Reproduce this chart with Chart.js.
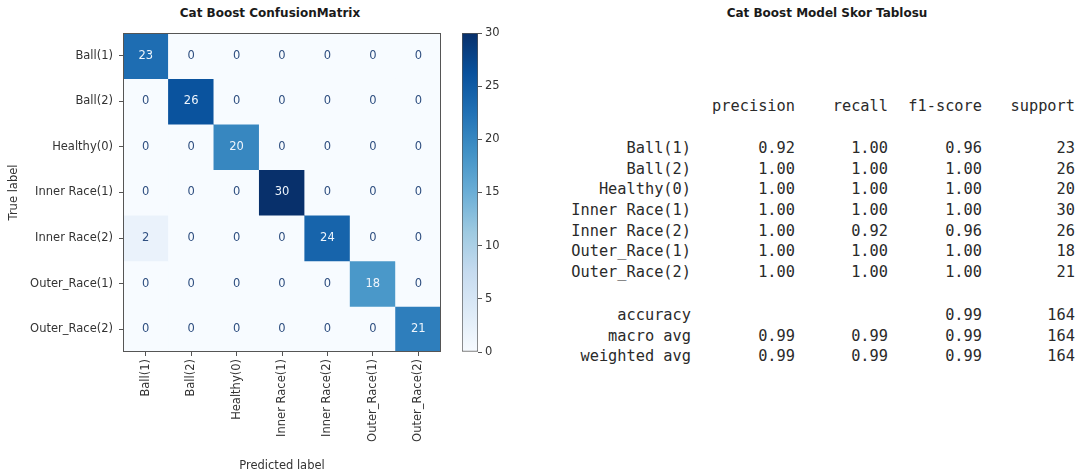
<!DOCTYPE html>
<html>
<head>
<meta charset="utf-8">
<script src="https://cdn.jsdelivr.net/npm/chart.js@4.4.1/dist/chart.umd.min.js"></script>
<style>
  html, body { margin: 0; padding: 0; background: #fff; width: 1087px; height: 474px; overflow: hidden; }
  canvas { position: absolute; top: 0; }
  #cm { left: 0; }
  #cb { left: 440px; }
  .title { position: absolute; top: 13px; transform: translate(-50%, -50%); white-space: nowrap;
           font: bold 12px 'DejaVu Sans', sans-serif; color: #1a1a1a; }
  .t { position: absolute; white-space: pre; font-family: 'DejaVu Sans Mono', monospace; font-size: 15.3px;
       line-height: 1; color: #2a2a2a; transform: translate(-100%, -50%); }
</style>
</head>
<body>
<div class="title" style="left:270px">Cat Boost ConfusionMatrix</div>
<div class="title" style="left:827px">Cat Boost Model Skor Tablosu</div>
<canvas id="cm" width="460" height="474"></canvas>
<canvas id="cb" width="80" height="474"></canvas>
<div id="report"></div>
<script>
// Class names (rows = true label, columns = predicted label)
const trueLabels = ['Ball(1)', 'Ball(2)', 'Healthy(0)', 'Inner Race(1)', 'Inner Race(2)', 'Outer_Race(1)', 'Outer_Race(2)'];
const predLabels = ['Ball(1)', 'Ball(2)', 'Healthy(0)', 'Inner Race(1)', 'Inner Race(2)', 'Outer_Race(1)', 'Outer_Race(2)'];

// Confusion-matrix counts, one array per true class
const rowBall1      = [23, 0, 0, 0, 0, 0, 0];
const rowBall2      = [0, 26, 0, 0, 0, 0, 0];
const rowHealthy0   = [0, 0, 20, 0, 0, 0, 0];
const rowInnerRace1 = [0, 0, 0, 30, 0, 0, 0];
const rowInnerRace2 = [2, 0, 0, 0, 24, 0, 0];
const rowOuterRace1 = [0, 0, 0, 0, 0, 18, 0];
const rowOuterRace2 = [0, 0, 0, 0, 0, 0, 21];
const matrix = [rowBall1, rowBall2, rowHealthy0, rowInnerRace1, rowInnerRace2, rowOuterRace1, rowOuterRace2];

// Colour bar range and ticks
const colorRange = [0, 30];
const colorTickStep = 5;

// Classification report
const reportHeaders = ['precision', 'recall', 'f1-score', 'support'];
const precision = [0.92, 1.00, 1.00, 1.00, 1.00, 1.00, 1.00];
const recall    = [1.00, 1.00, 1.00, 1.00, 0.92, 1.00, 1.00];
const f1Score   = [0.96, 1.00, 1.00, 1.00, 0.96, 1.00, 1.00];
const support   = [23, 26, 20, 30, 26, 18, 21];
const summaryNames     = ['accuracy', 'macro avg', 'weighted avg'];
const summaryPrecision = [null, 0.99, 0.99];
const summaryRecall    = [null, 0.99, 0.99];
const summaryF1        = [0.99, 0.99, 0.99];
const summarySupport   = [164, 164, 164];

// matplotlib "Blues" colormap anchors
const BLUES = ['#f7fbff', '#deebf7', '#c6dbef', '#9ecae1', '#6baed6', '#4292c6', '#2171b5', '#08519c', '#08306b'];
function hexRgb(h) { return [1, 3, 5].map(i => parseInt(h.substr(i, 2), 16)); }
function blues(v) {
  const t = Math.min(1, Math.max(0, (v - colorRange[0]) / (colorRange[1] - colorRange[0])));
  const p = t * (BLUES.length - 1);
  const i = Math.min(BLUES.length - 2, Math.floor(p));
  const f = p - i;
  const a = hexRgb(BLUES[i]), b = hexRgb(BLUES[i + 1]);
  const c = a.map((x, k) => Math.round(x + (b[k] - x) * f));
  return `rgb(${c[0]},${c[1]},${c[2]})`;
}

const tickFont = { family: 'DejaVu Sans', size: 11.5 };
const textColor = '#333';
const lineColor = '#555';

// Count labels inside each cell + frame around the matrix
const cellText = {
  id: 'cellText',
  afterDatasetsDraw(chart) {
    const ctx = chart.ctx;
    const thresh = (colorRange[0] + colorRange[1]) / 2;
    ctx.save();
    ctx.font = `${tickFont.size}px ${tickFont.family}`;
    ctx.textAlign = 'center';
    ctx.textBaseline = 'middle';
    chart.data.datasets.forEach((ds, r) => {
      chart.getDatasetMeta(r).data.forEach((el, c) => {
        const v = ds.counts[c];
        ctx.fillStyle = v >= thresh ? '#eef5fc' : '#2f4f80';
        ctx.fillText(String(v), el.x, (el.y + el.base) / 2);
      });
    });
    const a = chart.chartArea;
    ctx.strokeStyle = lineColor;
    ctx.lineWidth = 1;
    ctx.strokeRect(a.left + 0.5, a.top + 0.5, a.right - a.left - 1, a.bottom - a.top - 1);
    ctx.restore();
  }
};

new Chart(document.getElementById('cm'), {
  type: 'bar',
  data: {
    labels: predLabels,
    datasets: matrix.map((row, r) => ({
      label: trueLabels[r],
      counts: row,
      data: row.map(() => [r, r + 1]),
      backgroundColor: row.map(v => blues(v)),
      borderWidth: 0,
      grouped: false,
      barPercentage: 1,
      categoryPercentage: 1
    }))
  },
  options: {
    responsive: false,
    animation: false,
    layout: { padding: { left: 0, right: 19, top: 33, bottom: 0 } },
    plugins: { legend: { display: false }, tooltip: { enabled: false } },
    scales: {
      x: {
        type: 'category',
        offset: true,
        grid: { offset: false, drawOnChartArea: false, drawTicks: true, tickLength: 4, color: lineColor },
        border: { display: false },
        ticks: { minRotation: 90, maxRotation: 90, autoSkip: false, padding: 3, color: textColor, font: tickFont },
        title: { display: true, text: 'Predicted label', color: textColor, font: tickFont, padding: { top: 0, bottom: 1.4 } },
        afterFit(s) { s.height = 122; }
      },
      y: {
        type: 'linear',
        min: 0,
        max: trueLabels.length,
        reverse: true,
        afterBuildTicks(s) { s.ticks = trueLabels.map((_, i) => ({ value: i + 0.5 })); },
        grid: { drawOnChartArea: false, drawTicks: true, tickLength: 4, color: lineColor },
        border: { display: false },
        ticks: { autoSkip: false, padding: 6, color: textColor, font: tickFont, callback: (v, i) => trueLabels[i] },
        title: { display: true, text: 'True label', color: textColor, font: tickFont, padding: { top: 7, bottom: 0 } },
        afterFit(s) { s.width = 123; }
      }
    }
  },
  plugins: [cellText]
});

// Colour bar: a single floating bar spanning the colour range, filled with the Blues gradient
new Chart(document.getElementById('cb'), {
  type: 'bar',
  data: {
    labels: [''],
    datasets: [{
      data: [colorRange],
      backgroundColor(ctx) {
        const chart = ctx.chart;
        const y = chart.scales.y;
        if (!chart.chartArea || !y) return BLUES[4];
        const y0 = y.getPixelForValue(colorRange[0]);
        const y1 = y.getPixelForValue(colorRange[1]);
        if (!isFinite(y0) || !isFinite(y1) || y0 === y1) return BLUES[4];
        const g = chart.ctx.createLinearGradient(0, y0, 0, y1);
        BLUES.forEach((c, i) => g.addColorStop(i / (BLUES.length - 1), c));
        return g;
      },
      borderColor: lineColor,
      borderWidth: 1,
      borderSkipped: false,
      barPercentage: 1,
      categoryPercentage: 1
    }]
  },
  options: {
    responsive: false,
    animation: false,
    layout: { padding: { left: 22, right: 0, top: 33, bottom: 122 } },
    plugins: { legend: { display: false }, tooltip: { enabled: false } },
    scales: {
      x: { display: false },
      y: {
        position: 'right',
        min: colorRange[0],
        max: colorRange[1],
        ticks: { stepSize: colorTickStep, padding: 3, color: textColor, font: tickFont },
        grid: { drawOnChartArea: false, drawTicks: true, tickLength: 4, color: lineColor },
        border: { display: false },
        afterFit(s) { s.width = 42; }
      }
    }
  }
});

// Classification report as monospaced, right-aligned columns
(function () {
  const host = document.getElementById('report');
  const colRight = [691, 795, 888, 982, 1075];
  const headerY = 107;
  const rowY0 = 149, rowStep = 20.67;
  const summaryY0 = 316;
  const fmt = v => (v === null ? '' : v.toFixed(2));
  function put(text, x, y) {
    if (text === '') return;
    const s = document.createElement('div');
    s.className = 't';
    s.textContent = text;
    s.style.left = x + 'px';
    s.style.top = y + 'px';
    host.appendChild(s);
  }
  reportHeaders.forEach((h, i) => put(h, colRight[i + 1], headerY));
  trueLabels.forEach((name, r) => {
    const y = rowY0 + r * rowStep;
    put(name, colRight[0], y);
    put(fmt(precision[r]), colRight[1], y);
    put(fmt(recall[r]), colRight[2], y);
    put(fmt(f1Score[r]), colRight[3], y);
    put(String(support[r]), colRight[4], y);
  });
  summaryNames.forEach((name, r) => {
    const y = summaryY0 + r * rowStep;
    put(name, colRight[0], y);
    put(fmt(summaryPrecision[r]), colRight[1], y);
    put(fmt(summaryRecall[r]), colRight[2], y);
    put(fmt(summaryF1[r]), colRight[3], y);
    put(String(summarySupport[r]), colRight[4], y);
  });
})();
</script>
</body>
</html>
